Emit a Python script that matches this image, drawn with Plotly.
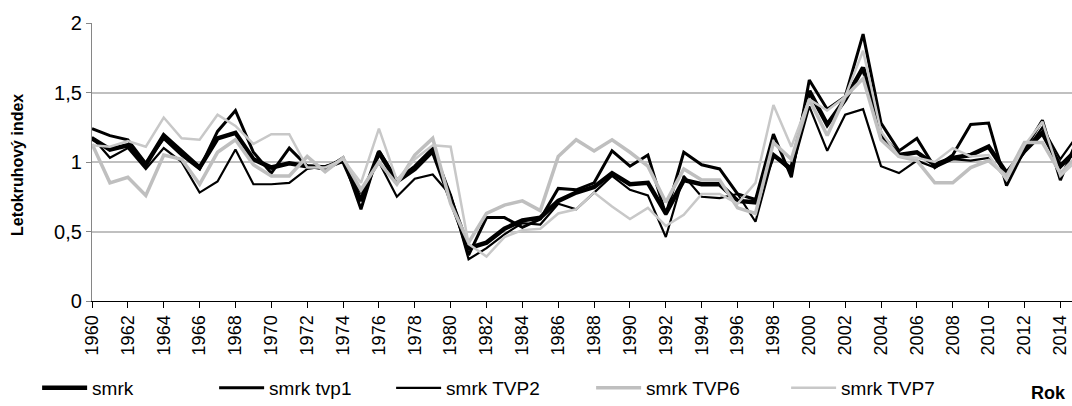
import plotly.graph_objects as go

years = list(range(1960, 2016))

smrk = [1.17, 1.09, 1.12, 0.98, 1.19, 1.08, 0.96, 1.17, 1.21, 1.02,
        0.96, 0.99, 0.97, 0.96, 1.01, 0.72, 1.07, 0.86, 0.95, 1.08,
        0.74, 0.38, 0.42, 0.52, 0.58, 0.60, 0.72, 0.78, 0.82, 0.92,
        0.84, 0.85, 0.63, 0.87, 0.84, 0.84, 0.72, 0.71, 1.05, 0.95,
        1.51, 1.27, 1.45, 1.68, 1.19, 1.05, 1.07, 0.98, 1.03, 1.05,
        1.11, 0.92, 1.08, 1.21, 0.97, 1.10]
tvp1 = [1.24, 1.19, 1.16, 0.99, 1.17, 1.05, 0.95, 1.22, 1.37, 1.07,
        0.92, 1.10, 0.97, 0.95, 1.03, 0.66, 1.08, 0.87, 0.97, 1.10,
        0.76, 0.33, 0.60, 0.60, 0.53, 0.59, 0.81, 0.80, 0.85, 1.08,
        0.97, 1.05, 0.62, 1.07, 0.98, 0.95, 0.77, 0.73, 1.20, 0.89,
        1.59, 1.38, 1.47, 1.92, 1.28, 1.08, 1.17, 0.96, 1.05, 1.27,
        1.28, 0.83, 1.09, 1.30, 0.87, 1.18]
tvp2 = [1.18, 1.03, 1.10, 0.95, 1.10, 1.00, 0.78, 0.86, 1.09, 0.84,
        0.84, 0.85, 0.95, 0.97, 1.00, 0.78, 1.00, 0.75, 0.88, 0.91,
        0.76, 0.30, 0.38, 0.48, 0.56, 0.55, 0.70, 0.66, 0.78, 0.90,
        0.80, 0.76, 0.46, 0.90, 0.75, 0.74, 0.77, 0.57, 1.05, 0.93,
        1.40, 1.08, 1.34, 1.38, 0.97, 0.92, 1.01, 0.96, 1.02, 1.01,
        1.03, 0.88, 1.07, 1.25, 1.02, 1.20]
tvp6 = [1.13, 0.85, 0.89, 0.76, 1.05, 1.02, 0.84, 1.07, 1.16, 0.98,
        0.90, 0.90, 1.04, 0.93, 1.03, 0.80, 1.00, 0.84, 1.05, 1.17,
        0.70, 0.42, 0.63, 0.69, 0.72, 0.65, 1.04, 1.16, 1.08, 1.16,
        1.07, 0.97, 0.71, 0.95, 0.87, 0.87, 0.67, 0.63, 1.14, 1.02,
        1.45, 1.19, 1.47, 1.60, 1.16, 1.04, 1.01, 0.85, 0.85, 0.96,
        1.01, 0.90, 1.14, 1.14, 0.92, 1.05]
tvp7 = [1.12, 1.11, 1.15, 1.11, 1.32, 1.17, 1.16, 1.34, 1.26, 1.13,
        1.20, 1.20, 0.96, 0.96, 1.02, 0.85, 1.24, 0.87, 1.02, 1.12,
        1.11, 0.41, 0.32, 0.46, 0.51, 0.52, 0.63, 0.66, 0.78, 0.68,
        0.59, 0.67, 0.54, 0.62, 0.77, 0.77, 0.70, 0.85, 1.41, 1.11,
        1.45, 1.37, 1.47, 1.80, 1.22, 1.04, 1.03, 1.00, 1.10, 1.04,
        1.05, 0.87, 1.12, 1.29, 0.90, 1.02]

series_names = ["smrk", "smrk tvp1", "smrk TVP2", "smrk TVP6", "smrk TVP7"]
series_vals = [smrk, tvp1, tvp2, tvp6, tvp7]
colors = ["#000000", "#000000", "#000000", "#bfbfbf", "#c8c8c8"]
widths = [4.5, 3, 2.2, 3.5, 2.5]
legend_widths = [117, 117, 140, 135, 100]

y_ticks = [0, 0.5, 1, 1.5, 2]
y_ticktext = ["0", "0,5", "1", "1,5", "2"]
x_ticks = list(range(1960, 2015, 2))

FONT = "Liberation Sans, Arial, sans-serif"

fig = go.Figure()
for name, vals, c, w, lw in zip(series_names, series_vals, colors, widths, legend_widths):
    fig.add_trace(go.Scatter(x=years, y=vals, mode="lines", name=name,
                             line=dict(color=c, width=w), legendwidth=lw))

fig.update_layout(
    template="none",
    width=1072, height=406,
    margin=dict(l=92, r=0, t=23, b=105, autoexpand=False),
    paper_bgcolor="white", plot_bgcolor="white",
    font=dict(family=FONT, size=18, color="#000000"),
    showlegend=True,
    legend=dict(orientation="h", x=-0.056, xanchor="left", y=-0.313, yanchor="middle",
                font=dict(size=19), itemwidth=45, bgcolor="rgba(0,0,0,0)",
                traceorder="normal"),
    xaxis=dict(type="linear", range=[1960, 2014.65], tickmode="array", tickvals=x_ticks,
               ticktext=[str(v) for v in x_ticks], tickangle=-90,
               ticks="outside", ticklen=6, tickcolor="#000000", tickwidth=1,
               showline=True, linecolor="#000000", linewidth=1.3,
               showgrid=False, zeroline=False, tickfont=dict(size=18)),
    yaxis=dict(range=[0, 2], tickmode="array", tickvals=y_ticks, ticktext=y_ticktext,
               ticks="outside", ticklen=5, tickcolor="#868686",
               showline=True, linecolor="#868686", linewidth=1.3,
               showgrid=True, gridcolor="#c0c0c0", gridwidth=1.5,
               zeroline=False, tickfont=dict(size=20)),
)

fig.add_annotation(text="<b>Letokruhový index</b>", xref="paper", yref="paper",
                   x=(18 - 92) / 980, y=(301 - 165) / 278, textangle=-90,
                   showarrow=False, font=dict(size=16), xanchor="center", yanchor="middle")
fig.add_annotation(text="<b>Rok</b>", xref="paper", yref="paper",
                   x=(1048 - 92) / 980, y=(301 - 393) / 278,
                   showarrow=False, font=dict(size=18), xanchor="center", yanchor="middle")

fig.write_html("out.html", config={"displayModeBar": False},
               post_script="document.body.style.margin='0';document.body.style.padding='0';")
